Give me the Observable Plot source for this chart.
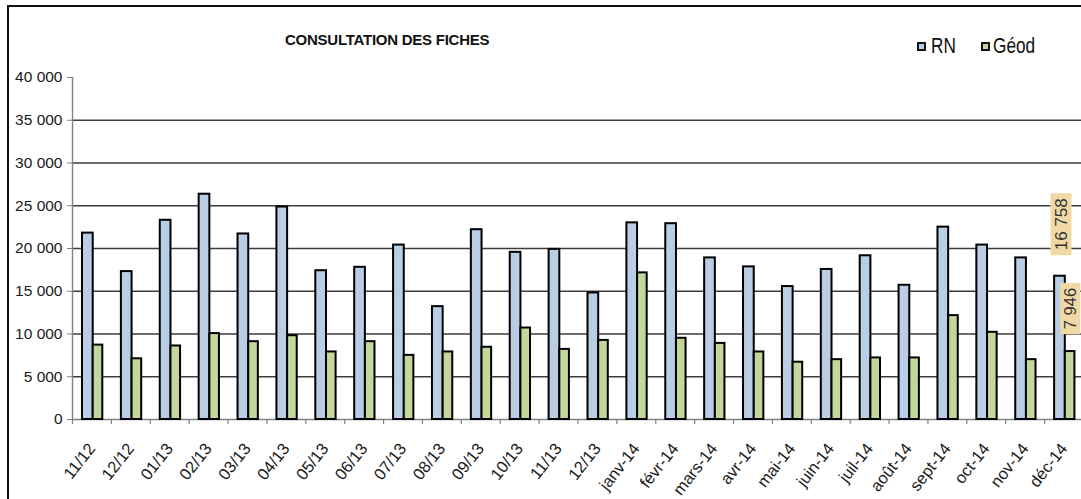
<!DOCTYPE html>
<html>
<head>
<meta charset="utf-8">
<script src="https://cdn.jsdelivr.net/npm/d3@7"></script>
<script src="https://cdn.jsdelivr.net/npm/@observablehq/plot@0.6"></script>
<style>
  html, body { margin: 0; padding: 0; background: #fff; }
  #wrap { position: relative; width: 1081px; height: 499px; overflow: hidden; font-family: "Liberation Sans", Arial, sans-serif; }
  #border { position: absolute; left: 7px; top: 5px; width: 1200px; height: 600px;
            border-top: 2px solid #111; border-left: 2px solid #111; pointer-events: none; }
  #title { position: absolute; left: 285px; top: 32px; font-weight: bold; font-size: 15px; line-height: 1; letter-spacing: -0.25px; color: #111; white-space: nowrap; }
  .sw { position: absolute; width: 5px; height: 5px; border: 2px solid #111; top: 42px; }
  .lt { position: absolute; top: 36px; font-size: 21.5px; line-height: 1; color: #111; white-space: nowrap; transform: scaleX(0.8); transform-origin: 0 0; }
  #chart { position: absolute; left: 0; top: 0; }
</style>
</head>
<body>
<div id="wrap">
  <div id="chart"></div>
  <div id="border"></div>
  <div id="title"></div>
  <div id="legend"></div>
</div>
<script>
// ---- data ----
const months = ["11/12","12/12","01/13","02/13","03/13","04/13","05/13","06/13","07/13","08/13","09/13","10/13","11/13","12/13","janv-14","févr-14","mars-14","avr-14","mai-14","juin-14","juil-14","août-14","sept-14","oct-14","nov-14","déc-14"];
const rn   = [21800,17300,23300,26350,21700,24850,17400,17800,20400,13200,22200,19550,19900,14800,23000,22900,18900,17850,15550,17550,19150,15700,22500,20400,18900,16758];
const geod = [8700,7100,8600,10050,9100,9800,7900,9100,7500,7900,8450,10700,8200,9250,17150,9500,8900,7900,6700,7000,7200,7200,12150,10200,7000,7946];
const seriesNames = ["RN", "Géod"];
const seriesColors = ["#b9cde5", "#c3d69b"];
const yTicks = [0,5000,10000,15000,20000,25000,30000,35000,40000];
const titleText = "CONSULTATION DES FICHES";
const labeledMonth = "déc-14";

// ---- build ----
const fmt = d => d3.format(",")(d).replace(/,/g, " ");
const rows = months.map((m, i) => ({month: m, rn: rn[i], geod: geod[i]}));
const labelRows = rows.filter(r => r.month === labeledMonth);

const W = 1081, H = 499, ML = 72, MR = -2, MT = 77, MB = 80;
const bw = (W - ML - MR) / months.length;
const sans = '"Liberation Sans", Arial, sans-serif';

const plot = Plot.plot({
  width: W, height: H,
  marginLeft: ML, marginRight: MR, marginTop: MT, marginBottom: MB,
  style: {fontFamily: sans, color: "#1a1a1a", background: "transparent", overflow: "visible"},
  x: {domain: months, padding: 0, round: false, label: null},
  y: {domain: [0, 40000], label: null},
  marks: [
    Plot.gridY(yTicks.filter(t => t > 0 && t < 40000), {stroke: "#3c3c3c", strokeOpacity: 1, strokeWidth: 1.4}),
    Plot.ruleX([months[0]], {dx: -bw / 2, stroke: "#808080", strokeWidth: 1.4}),
    Plot.ruleX(months, {x: d => d, dx: -bw / 2, insetTop: H - MT - MB, insetBottom: -5, stroke: "#808080", strokeWidth: 1.2}),
    Plot.ruleY([0], {stroke: "#808080", strokeWidth: 1.4}),
    Plot.barY(rows, {x: "month", y: "rn", fill: seriesColors[0], stroke: "#000", strokeWidth: 2, insetLeft: 10, insetRight: bw - 20.7}),
    Plot.barY(rows, {x: "month", y: "geod", fill: seriesColors[1], stroke: "#000", strokeWidth: 2, insetLeft: 20.7, insetRight: bw - 30.3}),
    Plot.axisY({ticks: yTicks, tickSize: 5, tickPadding: 5, tickFormat: fmt, fontSize: 15.5, stroke: "#808080", label: null}),
    Plot.axisX({tickSize: 0, tickPadding: 26, tickRotate: -52, fontSize: 16.5, label: null}),
    Plot.text(labelRows, {x: "month", y: "rn", text: d => fmt(d.rn), rotate: -90, dx: -3, dy: -52,
      fontSize: 17, fill: "#333", className: "vlabel"}),
    Plot.text(labelRows, {x: "month", y: "geod", text: d => fmt(d.geod), rotate: -90, dx: 7, dy: -43,
      fontSize: 16.5, fill: "#333", className: "vlabel"})
  ]
});
document.getElementById("chart").appendChild(plot);

// label boxes behind the value labels
plot.querySelectorAll("g.vlabel text").forEach(t => {
  const b = t.getBBox();
  const r = document.createElementNS("http://www.w3.org/2000/svg", "rect");
  r.setAttribute("x", b.x - 5); r.setAttribute("y", b.y - 1);
  r.setAttribute("width", b.width + 10); r.setAttribute("height", b.height + 2);
  r.setAttribute("fill", "#f1d9a6");
  if (t.getAttribute("transform")) r.setAttribute("transform", t.getAttribute("transform"));
  t.parentNode.insertBefore(r, t);
});

document.getElementById("title").textContent = titleText;
const legend = document.getElementById("legend");
const swX = [917, 981], txX = [931, 993];
seriesNames.forEach((n, i) => {
  const sw = document.createElement("div"); sw.className = "sw";
  sw.style.left = swX[i] + "px"; sw.style.background = seriesColors[i];
  const tx = document.createElement("div"); tx.className = "lt";
  tx.style.left = txX[i] + "px"; tx.textContent = n;
  legend.appendChild(sw); legend.appendChild(tx);
});
</script>
</body>
</html>
